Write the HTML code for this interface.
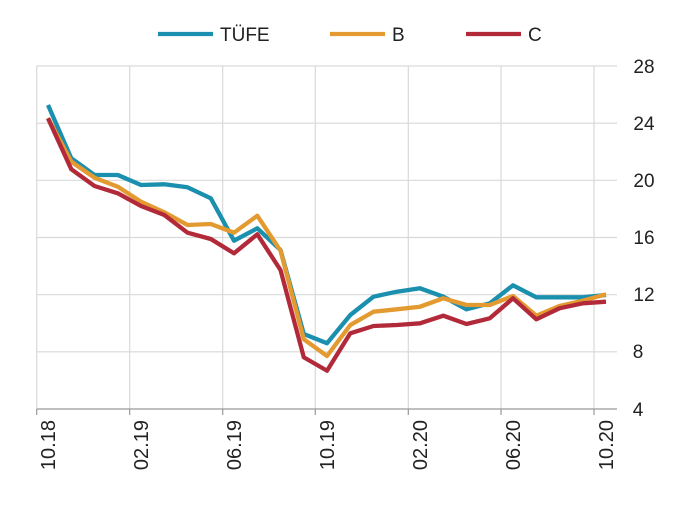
<!DOCTYPE html>
<html><head><meta charset="utf-8"><style>body{margin:0;background:#fff}</style></head><body>
<svg width="690" height="507" xmlns="http://www.w3.org/2000/svg" font-family="'Liberation Sans',sans-serif">
<rect width="690" height="507" fill="#fff"/>
<g stroke="#d9d9d9" stroke-width="1.2">
<line x1="36.7" y1="66" x2="617" y2="66"/><line x1="36.7" y1="123.2" x2="617" y2="123.2"/><line x1="36.7" y1="180.3" x2="617" y2="180.3"/><line x1="36.7" y1="237.5" x2="617" y2="237.5"/><line x1="36.7" y1="294.7" x2="617" y2="294.7"/><line x1="36.7" y1="351.8" x2="617" y2="351.8"/>
<line x1="36.7" y1="66" x2="36.7" y2="409"/><line x1="129.7" y1="66" x2="129.7" y2="409"/><line x1="222.7" y1="66" x2="222.7" y2="409"/><line x1="315.3" y1="66" x2="315.3" y2="409"/><line x1="408.3" y1="66" x2="408.3" y2="409"/><line x1="501" y1="66" x2="501" y2="409"/><line x1="594" y1="66" x2="594" y2="409"/>
</g>
<g stroke="#999" stroke-width="1.2">
<line x1="36.7" y1="409" x2="617" y2="409"/>
<line x1="36.7" y1="409" x2="36.7" y2="415"/><line x1="129.7" y1="409" x2="129.7" y2="415"/><line x1="222.7" y1="409" x2="222.7" y2="415"/><line x1="315.3" y1="409" x2="315.3" y2="415"/><line x1="408.3" y1="409" x2="408.3" y2="415"/><line x1="501" y1="409" x2="501" y2="415"/><line x1="594" y1="409" x2="594" y2="415"/>
</g>
<g font-size="19" fill="#222" text-anchor="middle">
<text x="644" y="73">28</text><text x="644" y="130">24</text><text x="644" y="187">20</text><text x="644" y="244">16</text><text x="644" y="301">12</text><text x="638" y="358">8</text><text x="638" y="416">4</text>
</g>
<g font-size="20" fill="#222" text-anchor="end">
<text transform="translate(48,420) rotate(-90)" dy="0.35em">10.18</text>
<text transform="translate(141,420) rotate(-90)" dy="0.35em">02.19</text>
<text transform="translate(234,420) rotate(-90)" dy="0.35em">06.19</text>
<text transform="translate(327,420) rotate(-90)" dy="0.35em">10.19</text>
<text transform="translate(420,420) rotate(-90)" dy="0.35em">02.20</text>
<text transform="translate(513,420) rotate(-90)" dy="0.35em">06.20</text>
<text transform="translate(606,420) rotate(-90)" dy="0.35em">10.20</text>
</g>
<g fill="none" stroke-width="4.3" stroke-linejoin="round">
<polyline stroke="#1a8fae" points="48,105 71.3,158.3 94.5,175 117.8,175 141,185 164.3,184.3 187.5,187.3 210.8,198.3 234,240.7 257.3,228.3 280.5,250 303.8,334 327,343.3 350.3,315 373.5,296.7 396.8,291.7 420,288.3 443.3,296.7 466.5,309.3 489.8,303.3 513,285.3 536.3,297.3 559.5,297.3 582.8,297.3 606,295"/>
<polyline stroke="#e39a30" points="48,118 71.3,161.7 94.5,177.7 117.8,186.7 141,201.7 164.3,212.3 187.5,225 210.8,224 234,232.7 257.3,215.7 280.5,250.7 303.8,339.3 327,356 350.3,325 373.5,311.7 396.8,309.3 420,306.7 443.3,298.3 466.5,305 489.8,305 513,296 536.3,315.7 559.5,306 582.8,300.7 606,294.3"/>
<polyline stroke="#b22a3a" points="48,118.3 71.3,169.3 94.5,186 117.8,193.3 141,206 164.3,215 187.5,232.7 210.8,239 234,253.3 257.3,234.3 280.5,270 303.8,357.3 327,370.7 350.3,333.3 373.5,326 396.8,325 420,323.3 443.3,315.7 466.5,324 489.8,318.3 513,298.3 536.3,319.3 559.5,308.3 582.8,303.3 606,301.7"/>
</g>
<g stroke-width="4.3">
<line x1="158" y1="34" x2="213" y2="34" stroke="#1a8fae"/>
<line x1="330" y1="34" x2="385" y2="34" stroke="#e39a30"/>
<line x1="466" y1="34" x2="521" y2="34" stroke="#b22a3a"/>
</g>
<g font-size="19" fill="#222">
<text x="220" y="41">TÜFE</text><text x="392" y="41">B</text><text x="528" y="41">C</text>
</g>
</svg>
</body></html>
